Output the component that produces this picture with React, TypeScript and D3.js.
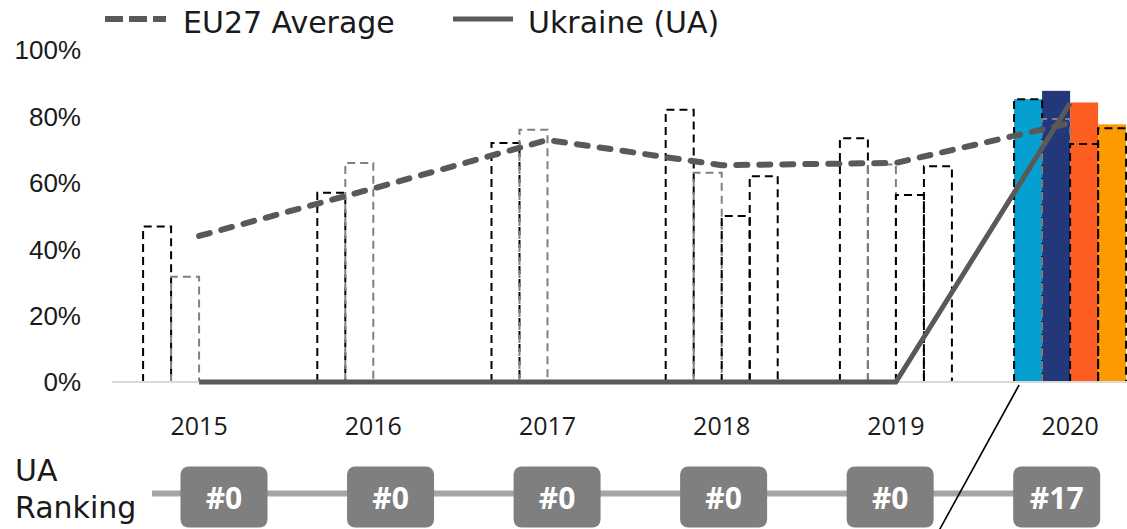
import * as d3 from "d3";
import { useEffect, useRef } from "react";

// Data
const years = ["2015", "2016", "2017", "2018", "2019", "2020"];

// dashed outline bars, four per year
const outlineA = [46.8, 57, 72, 82, 73.4, 85.2];
const outlineB = [31.7, 66, 76, 63, 65.5, 79.2];
const outlineC = [0, 0, 0, 50, 56.3, 71.7];
const outlineD = [0, 0, 0, 62, 65, 76.4];

// filled bars, only 2020
const fillA = [null, null, null, null, null, 85.2];
const fillB = [null, null, null, null, null, 87.7];
const fillC = [null, null, null, null, null, 84.2];
const fillD = [null, null, null, null, null, 77.6];

const euAverage = [44, 58.3, 72.9, 65.3, 66, 78];
const ukraine = [0, 0, 0, 0, 0, 84];
const rankings = ["#0", "#0", "#0", "#0", "#0", "#17"];
const yTicks = [0, 20, 40, 60, 80, 100];

const W = 1127;
const H = 529;

const drawChart = (node: SVGSVGElement) => {
  const svg = d3.select(node);
  svg.selectAll("*").remove();

  // scales
  const x = d3.scaleBand<string>()
    .domain(years)
    .range([112, 1157.2])
    .paddingInner(0.357)
    .paddingOuter(0.1785);
  const sub = d3.scaleBand<number>()
    .domain([0, 1, 2, 3])
    .range([0, x.bandwidth()]);
  const y = d3.scaleLinear().domain([0, 100]).range([382, 50]);
  const cx = (yr: string) => (x(yr) as number) + x.bandwidth() / 2;

  // y tick labels
  svg.append("g")
    .selectAll("text")
    .data(yTicks)
    .join("text")
    .attr("x", 81)
    .attr("y", d => y(d))
    .attr("dy", "0.36em")
    .attr("text-anchor", "end")
    .attr("font-family", "Liberation Sans")
    .attr("font-size", 26)
    .attr("fill", "#1a1a1a")
    .text(d => `${d}%`);

  // filled bars
  const fills = [
    { vals: fillA, color: "#05a0cf" },
    { vals: fillB, color: "#23387b" },
    { vals: fillC, color: "#fe5d21" },
    { vals: fillD, color: "#fd9a00" },
  ];
  fills.forEach((s, i) => {
    svg.append("g")
      .selectAll("rect")
      .data(years.map((yr, j) => ({ yr, v: s.vals[j] })).filter(d => d.v != null))
      .join("rect")
      .attr("x", d => (x(d.yr) as number) + (sub(i) as number))
      .attr("width", sub.bandwidth())
      .attr("y", d => y(d.v as number))
      .attr("height", d => y(0) - y(d.v as number))
      .attr("fill", s.color);
  });

  // dashed outline bars
  const outlines = [
    { vals: outlineA, color: "#000000" },
    { vals: outlineB, color: "#808080" },
    { vals: outlineC, color: "#000000" },
    { vals: outlineD, color: "#000000" },
  ];
  outlines.forEach((s, i) => {
    svg.append("g")
      .selectAll("path")
      .data(years.map((yr, j) => ({ yr, v: s.vals[j] })).filter(d => d.v > 0))
      .join("path")
      .attr("d", d => {
        const x0 = (x(d.yr) as number) + (sub(i) as number);
        const x1 = x0 + sub.bandwidth();
        return `M${x0},${y(0)}V${y(d.v)}H${x1}V${y(0)}`;
      })
      .attr("fill", "none")
      .attr("stroke", s.color)
      .attr("stroke-width", 2)
      .attr("stroke-dasharray", "8,5");
  });

  // x axis baseline
  svg.append("line")
    .attr("x1", 112)
    .attr("x2", W)
    .attr("y1", y(0))
    .attr("y2", y(0))
    .attr("stroke", "#d9d9d9")
    .attr("stroke-width", 2);

  // year labels
  svg.append("g")
    .selectAll("text")
    .data(years)
    .join("text")
    .attr("x", d => cx(d))
    .attr("y", 435)
    .attr("text-anchor", "middle")
    .attr("font-family", "Open Sans")
    .attr("font-size", 25)
    .attr("fill", "#1a1a1a")
    .text(d => d);

  // lines
  const line = d3.line<number>()
    .x((_, i) => cx(years[i]))
    .y(d => y(d));

  svg.append("path")
    .datum(euAverage)
    .attr("fill", "none")
    .attr("stroke", "#595959")
    .attr("stroke-width", 6)
    .attr("stroke-linecap", "round")
    .attr("stroke-dasharray", "11,12")
    .attr("d", line);

  svg.append("path")
    .datum(ukraine)
    .attr("fill", "none")
    .attr("stroke", "#595959")
    .attr("stroke-width", 5)
    .attr("d", line);

  // legend
  const legend = svg.append("g").attr("font-family", "DejaVu Sans").attr("font-size", 30).attr("fill", "#1a1a1a");
  legend.append("line")
    .attr("x1", 105).attr("x2", 166).attr("y1", 19).attr("y2", 19)
    .attr("stroke", "#595959").attr("stroke-width", 6).attr("stroke-dasharray", "18,6");
  legend.append("text").attr("x", 183).attr("y", 33).text("EU27 Average");
  legend.append("line")
    .attr("x1", 453).attr("x2", 513).attr("y1", 19).attr("y2", 19)
    .attr("stroke", "#595959").attr("stroke-width", 5);
  legend.append("text").attr("x", 528).attr("y", 33).text("Ukraine (UA)");

  // ranking row
  const rx = d3.scalePoint<string>().domain(years).range([224, 1056.7]);
  const rowY = 493.5;
  svg.append("text")
    .attr("x", 15).attr("y", 481)
    .attr("font-family", "DejaVu Sans").attr("font-size", 30).attr("fill", "#1a1a1a")
    .text("UA");
  svg.append("text")
    .attr("x", 15).attr("y", 518)
    .attr("font-family", "DejaVu Sans").attr("font-size", 30).attr("fill", "#1a1a1a")
    .text("Ranking");
  svg.append("line")
    .attr("x1", 152).attr("x2", rx("2020") as number)
    .attr("y1", rowY).attr("y2", rowY)
    .attr("stroke", "#a6a6a6").attr("stroke-width", 6);

  const boxes = svg.append("g")
    .selectAll("g")
    .data(years.map((yr, i) => ({ yr, r: rankings[i] })))
    .join("g")
    .attr("transform", d => `translate(${rx(d.yr)},${rowY})`);
  boxes.append("rect")
    .attr("x", -43.5).attr("y", -27).attr("width", 87).attr("height", 61)
    .attr("rx", 8).attr("fill", "#7f7f7f");
  boxes.append("text")
    .attr("text-anchor", "middle")
    .attr("y", 15)
    .attr("font-family", "Open Sans").attr("font-weight", "bold")
    .attr("font-size", 30).attr("fill", "#ffffff")
    .text(d => d.r);

  // leader line from 2020 group down past the ranking row
  const lx = (x("2020") as number) + 5;
  svg.append("line")
    .attr("x1", lx).attr("y1", y(0) + 3)
    .attr("x2", lx - 0.55 * (H + 2 - y(0) - 3)).attr("y2", H + 2)
    .attr("stroke", "#000").attr("stroke-width", 1.6);
};

export default function App() {
  const ref = useRef<SVGSVGElement>(null);
  useEffect(() => {
    if (ref.current) drawChart(ref.current);
  }, []);
  return (
    <svg
      ref={ref}
      width={W}
      height={H}
      style={{ position: "absolute", left: 0, top: 0, display: "block", background: "#fff" }}
    />
  );
}
